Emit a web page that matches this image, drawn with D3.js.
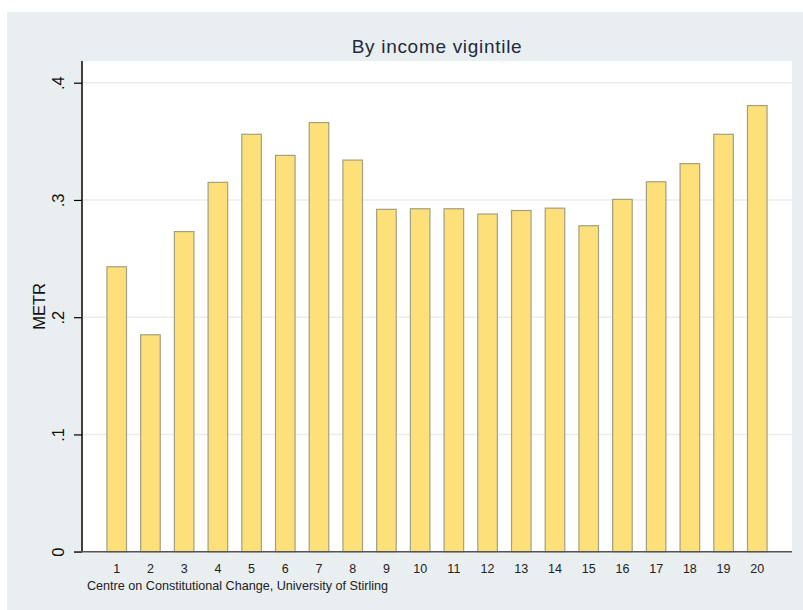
<!DOCTYPE html>
<html>
<head>
<meta charset="utf-8">
<script src="https://cdn.jsdelivr.net/npm/d3@7"></script>
<style>
  body { margin: 0; background: #ffffff; }
  svg { display: block; font-family: "Liberation Sans", Arial, sans-serif; }
</style>
</head>
<body>
<svg id="chart"></svg>
<script>
// income vigintiles and the METR for each
var vigintiles = d3.range(1, 21)
var metr = [0.243, 0.185, 0.273, 0.315, 0.356, 0.338, 0.366, 0.334, 0.292, 0.2925,
            0.2925, 0.288, 0.291, 0.293, 0.278, 0.3005, 0.3155, 0.331, 0.356, 0.3805]
var yTicks = [0, 0.1, 0.2, 0.3, 0.4]
var yTickLabels = ["0", ".1", ".2", ".3", ".4"]
var titleText = "By income vigintile"
var yTitle = "METR"
var noteText = "Centre on Constitutional Change, University of Stirling"

var dimensions = {
    width: 803,
    height: 610,
    outer: {left: 7, top: 12},
    plot: {left: 82, right: 792, top: 61, bottom: 551.7}
}

var svg = d3.select("#chart")
            .attr("width", dimensions.width)
            .attr("height", dimensions.height)

// grey graph region
svg.append("rect")
   .attr("x", dimensions.outer.left)
   .attr("y", dimensions.outer.top)
   .attr("width", dimensions.width - dimensions.outer.left)
   .attr("height", dimensions.height - dimensions.outer.top)
   .attr("fill", "#e9eef1")

// white plot region
svg.append("rect")
   .attr("x", dimensions.plot.left)
   .attr("y", dimensions.plot.top)
   .attr("width", dimensions.plot.right - dimensions.plot.left)
   .attr("height", dimensions.plot.bottom - dimensions.plot.top)
   .attr("fill", "#ffffff")

var xScale = d3.scaleBand()
               .domain(vigintiles)
               .range([dimensions.plot.left, dimensions.plot.right])
               .paddingInner(0.42)
               .paddingOuter(0.74)

var yScale = d3.scaleLinear()
               .domain([0, 0.4])
               .range([dimensions.plot.bottom, 82.7])

// gridlines
svg.append("g")
   .selectAll("line")
   .data(yTicks.filter(d => d > 0))
   .enter()
   .append("line")
   .attr("x1", dimensions.plot.left)
   .attr("x2", dimensions.plot.right)
   .attr("y1", d => yScale(d))
   .attr("y2", d => yScale(d))
   .style("stroke", "#eaeced")
   .style("stroke-width", "1.5")

// bars
svg.append("g")
   .selectAll("rect")
   .data(metr)
   .enter()
   .append("rect")
   .attr("x", (d, i) => xScale(vigintiles[i]))
   .attr("y", d => yScale(d))
   .attr("width", xScale.bandwidth())
   .attr("height", d => yScale(0) - yScale(d))
   .attr("fill", "#fee07a")
   .attr("stroke", "#a3a081")
   .attr("stroke-width", 1.2)

// y axis
var yAxis = d3.axisLeft(yScale)
              .tickValues(yTicks)
              .tickSize(8)
              .tickFormat((d, i) => yTickLabels[i])
var yAxisG = svg.append("g")
                .attr("transform", "translate(" + dimensions.plot.left + ",0)")
                .call(yAxis)
yAxisG.select(".domain")
      .attr("d", "M0," + dimensions.plot.top + "V" + dimensions.plot.bottom)
      .style("stroke", "#000")
      .style("stroke-width", "1.5")
yAxisG.selectAll(".tick line").style("stroke", "#000").style("stroke-width", "1.2")
yAxisG.selectAll(".tick text")
      .attr("x", null)
      .attr("dy", null)
      .attr("text-anchor", "middle")
      .attr("transform", "translate(-18,0) rotate(-90)")
      .attr("y", 0)
      .style("font-size", "16.5px")
      .style("fill", "#111")
      .style("font-family", "Liberation Sans, Arial, sans-serif")

// x axis
var xAxis = d3.axisBottom(xScale).tickSize(0).tickPadding(12)
var xAxisG = svg.append("g")
                .attr("transform", "translate(0," + dimensions.plot.bottom + ")")
                .call(xAxis)
xAxisG.select(".domain")
      .attr("d", "M74,0H" + dimensions.plot.right)
      .style("stroke", "#555")
      .style("stroke-width", "1.5")
xAxisG.selectAll(".tick text")
      .style("font-size", "12.5px")
      .style("fill", "#222")
      .style("font-family", "Liberation Sans, Arial, sans-serif")

// title
svg.append("text")
   .attr("x", (dimensions.plot.left + dimensions.plot.right) / 2)
   .attr("y", 52.7)
   .attr("text-anchor", "middle")
   .style("font-size", "19px")
   .style("letter-spacing", "0.7px")
   .style("fill", "#1e2a40")
   .text(titleText)

// y axis title
svg.append("text")
   .attr("transform", "translate(45," + (dimensions.plot.top + dimensions.plot.bottom) / 2 + ") rotate(-90)")
   .attr("text-anchor", "middle")
   .style("font-size", "16.5px")
   .style("fill", "#111")
   .text(yTitle)

// note
svg.append("text")
   .attr("x", 87)
   .attr("y", 590)
   .style("font-size", "12.6px")
   .style("fill", "#222")
   .text(noteText)
</script>
</body>
</html>
